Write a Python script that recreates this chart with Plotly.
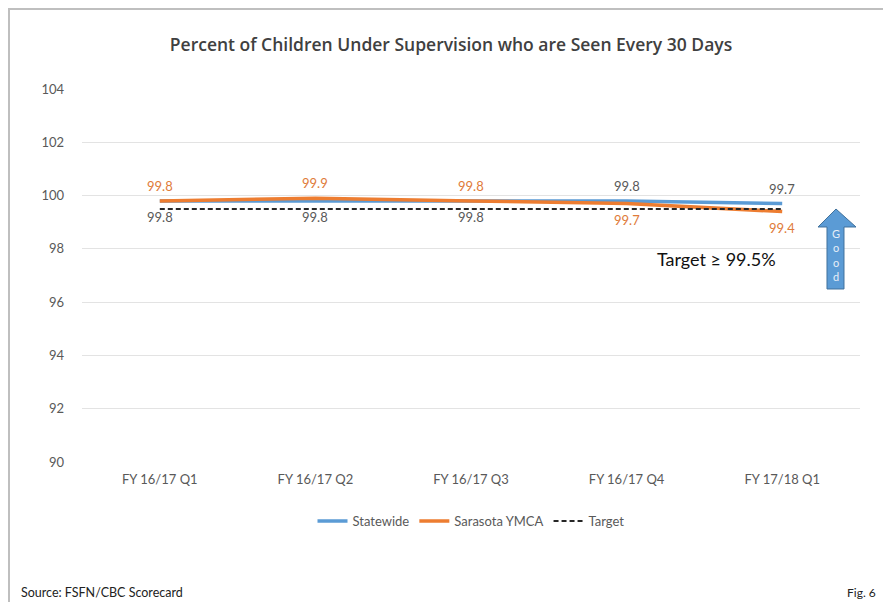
import plotly.graph_objects as go

# Quarterly values (percent of children seen every 30 days)
quarters = ["FY 16/17 Q1", "FY 16/17 Q2", "FY 16/17 Q3", "FY 16/17 Q4", "FY 17/18 Q1"]
statewide = [99.8, 99.8, 99.8, 99.8, 99.7]
sarasota = [99.8, 99.9, 99.8, 99.7, 99.4]
target = [99.5, 99.5, 99.5, 99.5, 99.5]
y_ticks = [90, 92, 94, 96, 98, 100, 102, 104]

# Which side of the line each value label sits on
statewide_side = ["below", "below", "below", "above", "above"]
sarasota_side = ["above", "above", "above", "below", "below"]

W, H = 883, 602
ML, MR, MT, MB = 82, 23, 89, 140
FONT = "Lato, 'Open Sans', sans-serif"
BLUE = "#5B9BD5"
ORANGE = "#ED7D31"
GRAY = "#595959"


def px(x):
    return (x - ML) / (W - ML - MR)


def py(y):
    return 1 - (y - MT) / (H - MT - MB)


fig = go.Figure()

fig.add_trace(go.Scatter(
    x=quarters, y=statewide, name="Statewide", mode="lines",
    line=dict(color=BLUE, width=3.5),
))
fig.add_trace(go.Scatter(
    x=quarters, y=sarasota, name="Sarasota YMCA", mode="lines",
    line=dict(color=ORANGE, width=3.5),
))
fig.add_trace(go.Scatter(
    x=quarters, y=target, name="Target", mode="lines",
    line=dict(color="#262626", width=2, dash="5px,3px"),
))

annotations = []
for vals, sides, color in ((statewide, statewide_side, GRAY),
                           (sarasota, sarasota_side, "#E07B39")):
    for q, v, s in zip(quarters, vals, sides):
        annotations.append(dict(
            x=q, y=v, xref="x", yref="y", text=f"{v:.1f}", showarrow=False,
            xanchor="center", yshift=15 if s == "above" else -16,
            font=dict(size=13, color=color, family=FONT)))

# Outer frame
shapes = [
    dict(type="rect", xref="paper", yref="paper",
         x0=px(9), x1=px(W + 20), y0=py(H + 20), y1=py(9),
         line=dict(color="#BFBFBF", width=2), fillcolor="rgba(0,0,0,0)",
         layer="below"),
]

# "Good" arrow pointing upward
arrow_pts = [(827, 289), (844, 289), (844, 227), (856, 227), (836, 209),
             (818, 227), (827, 227)]
path = "M " + " L ".join(f"{px(x):.5f},{py(y):.5f}" for x, y in arrow_pts) + " Z"
shapes.append(dict(type="path", xref="paper", yref="paper", path=path,
                   fillcolor=BLUE, line=dict(color="#41719C", width=1)))

annotations += [
    dict(text="Target ≥ 99.5%", x=px(716), y=py(259), xref="paper", yref="paper",
         xanchor="center", yanchor="middle", showarrow=False,
         font=dict(size=18, color="#111111", family=FONT)),
    dict(text="Source: FSFN/CBC Scorecard", x=px(19), y=py(592), xref="paper",
         yref="paper", xanchor="left", yanchor="middle", showarrow=False,
         font=dict(size=12.5, color="#222222", family=FONT)),
    dict(text="Fig. 6", x=px(878), y=py(592), xref="paper", yref="paper",
         xanchor="right", yanchor="middle", showarrow=False,
         font=dict(size=12, color="#222222", family=FONT)),
    # Stacked letters inside the arrow
    dict(text="G<br>o<br>o<br>d", x=px(836), y=py(255), xref="paper", yref="paper",
         xanchor="center", yanchor="middle", showarrow=False, align="center",
         font=dict(size=11, color="#E6EEF8", family=FONT)),
]

fig.update_layout(
    width=W, height=H,
    margin=dict(l=ML, r=MR, t=MT, b=MB, autoexpand=False),
    paper_bgcolor="white", plot_bgcolor="white",
    title=dict(text="Percent of Children Under Supervision who are Seen Every 30 Days",
               x=451 / W, xref="container", xanchor="center",
               y=1 - 45 / H, yanchor="middle",
               font=dict(size=17.5, color="#404040", family="'Open Sans', sans-serif",
                         weight=600)),
    font=dict(family=FONT, color=GRAY, size=13),
    xaxis=dict(range=[-0.5, 4.5], showgrid=False, showline=False, ticks="",
               automargin=False, ticklabelstandoff=8,
               tickfont=dict(size=13, color=GRAY)),
    yaxis=dict(range=[90, 104], tickvals=y_ticks, showgrid=True,
               gridcolor="#E3E3E3", gridwidth=1, zeroline=False, showline=False,
               ticks="", automargin=False, ticklabelstandoff=17,
               tickfont=dict(size=13, color=GRAY)),
    legend=dict(orientation="h", x=0.5, xanchor="center", y=py(521), yanchor="middle",
                traceorder="normal", font=dict(size=13, color=GRAY)),
    shapes=shapes,
    annotations=annotations,
)

fig.write_html("out.html")
